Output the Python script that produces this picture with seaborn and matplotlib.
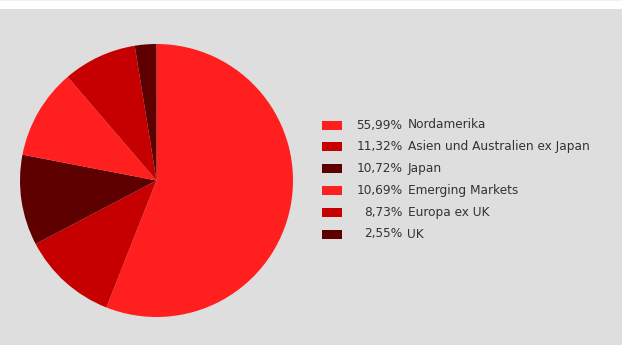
import numpy as np
import pandas as pd
import matplotlib
matplotlib.use("Agg")
import matplotlib.pyplot as plt
from matplotlib.patches import Rectangle
import seaborn as sns

# Regional allocation of the fund
regions = ["Nordamerika", "Asien und Australien ex Japan", "Japan",
           "Emerging Markets", "Europa ex UK", "UK"]
shares = [55.99, 11.32, 10.72, 10.69, 8.73, 2.55]
colors = ["#ff1f1f", "#c60000", "#5e0000", "#ff1f1f", "#c60000", "#5e0000"]

sns.set_style("white")
plt.rcParams["font.family"] = ["DejaVu Sans"]
palette = sns.color_palette(colors)

W, H = 622, 345
fig = plt.figure(figsize=(W / 100, H / 100), dpi=100)
fig.patch.set_facecolor("white")
ax = fig.add_axes([0, 0, 1, 1])

df = pd.DataFrame({"region": regions, "share": shares})

wedges, _ = ax.pie(df["share"], colors=palette, startangle=90, counterclock=False,
                   center=(156.5, H - 180.5), radius=136.5, frame=True,
                   wedgeprops=dict(linewidth=0, antialiased=True))
ax.set_xlim(0, W)
ax.set_ylim(0, H)
ax.set_aspect("equal")
ax.axis("off")

# grey panel below the white top strip
ax.add_patch(Rectangle((0, 0), W, H - 9, facecolor="#dedede", edgecolor="none", zorder=0))
ax.add_patch(Rectangle((0, H - 1), W, 1, facecolor="#f2f2f2", edgecolor="none", zorder=0))

clip = Rectangle((0, H - 316), W, 316, transform=ax.transData)
for w in wedges:
    w.set_clip_path(clip)

# legend
row0, step = 125, 21.8
for i, (name, val) in enumerate(zip(df["region"], df["share"])):
    y = H - (row0 + i * step)
    ax.add_patch(Rectangle((321.5, y - 4.5), 20, 9, facecolor=palette[i], edgecolor="none"))
    pct = f"{val:.2f}".replace(".", ",") + "%"
    ax.text(402.5, y, pct, ha="right", va="center", fontsize=8.7, color="#333333")
    ax.text(407.5, y, name, ha="left", va="center", fontsize=8.7, color="#333333")

fig.savefig("out.png", dpi=100, facecolor=fig.get_facecolor())
